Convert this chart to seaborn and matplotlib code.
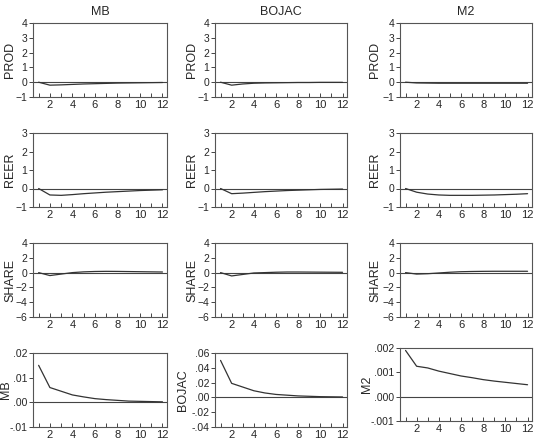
import numpy as np
import pandas as pd
import matplotlib
matplotlib.use("Agg")
import matplotlib.pyplot as plt
import seaborn as sns
from matplotlib.ticker import FuncFormatter

sns.set_style("ticks")
plt.rcParams['font.family'] = ['Liberation Sans', 'DejaVu Sans']

periods = list(range(1, 13))
shocks = ["MB", "BOJAC", "M2"]
responses = ["PROD", "REER", "SHARE", "OWN"]

# MB shock
mb_prod = [0, -0.20, -0.18, -0.15, -0.12, -0.10, -0.08, -0.06, -0.05, -0.04, -0.03, -0.02]
mb_reer = [0, -0.35, -0.37, -0.33, -0.28, -0.24, -0.20, -0.17, -0.14, -0.11, -0.09, -0.07]
mb_share = [0, -0.40, -0.20, 0.00, 0.10, 0.15, 0.17, 0.16, 0.14, 0.12, 0.10, 0.08]
mb_own = [0.015, 0.006, 0.0045, 0.003, 0.0022, 0.0015, 0.0011, 0.0008, 0.0005, 0.0004, 0.0003, 0.0002]
# BOJAC shock
bj_prod = [0, -0.20, -0.12, -0.07, -0.05, -0.04, -0.03, -0.02, -0.02, -0.01, -0.01, -0.01]
bj_reer = [0, -0.28, -0.25, -0.21, -0.17, -0.14, -0.11, -0.09, -0.07, -0.05, -0.04, -0.03]
bj_share = [0, -0.45, -0.25, -0.05, 0.00, 0.05, 0.08, 0.08, 0.07, 0.06, 0.05, 0.04]
bj_own = [0.05, 0.019, 0.014, 0.009, 0.006, 0.004, 0.003, 0.002, 0.0015, 0.001, 0.0008, 0.0006]
# M2 shock
m2_prod = [0, -0.05, -0.06, -0.07, -0.07, -0.07, -0.07, -0.07, -0.07, -0.07, -0.07, -0.07]
m2_reer = [0, -0.20, -0.30, -0.35, -0.37, -0.37, -0.37, -0.36, -0.35, -0.33, -0.31, -0.28]
m2_share = [0, -0.20, -0.15, -0.05, 0.05, 0.12, 0.15, 0.17, 0.18, 0.18, 0.18, 0.18]
m2_own = [0.0019, 0.00125, 0.00118, 0.00105, 0.00095, 0.00085, 0.00078, 0.0007, 0.00064, 0.00059, 0.00054, 0.00049]

series = {
    "MB": [mb_prod, mb_reer, mb_share, mb_own],
    "BOJAC": [bj_prod, bj_reer, bj_share, bj_own],
    "M2": [m2_prod, m2_reer, m2_share, m2_own],
}

row_ylims = [(-1, 4), (-1, 3), (-6, 4)]
row_yticks = [[-1, 0, 1, 2, 3, 4], [-1, 0, 1, 2, 3], [-6, -4, -2, 0, 2, 4]]
own_ylims = {"MB": (-0.01, 0.02), "BOJAC": (-0.04, 0.06), "M2": (-0.001, 0.002)}
own_yticks = {"MB": [-0.01, 0.0, 0.01, 0.02],
              "BOJAC": [-0.04, -0.02, 0.0, 0.02, 0.04, 0.06],
              "M2": [-0.001, 0.0, 0.001, 0.002]}
own_dec = {"MB": 2, "BOJAC": 2, "M2": 3}

W, H = 535, 442
fig = plt.figure(figsize=(W / 100, H / 100), dpi=100)

cols_px = [(33, 167), (215, 347), (400, 532)]
rows_px = [(23, 97), (133, 207), (243, 317), (353, 427)]
# right edge (px) of the rotated y label: rows 1-3, row 4
label_right_px = [(16, 12), (198, 189), (381, 373)]

def fmt_dec(d):
    def f(v, pos):
        s = f"{v:.{d}f}"
        s = s.replace("0.", ".", 1) if s.startswith("0.") else s.replace("-0.", "-.", 1)
        return s
    return f

line_col = "#333333"
for c, shock in enumerate(shocks):
    for r in range(4):
        l, rr = cols_px[c]
        t, b = rows_px[r]
        if c == 2 and r == 3:
            t, b = 348, 421
        ax = fig.add_axes([l / W, 1 - b / H, (rr - l) / W, (b - t) / H])
        df = pd.DataFrame({"period": periods, "value": series[shock][r]})
        sns.lineplot(data=df, x="period", y="value", ax=ax, color=line_col, linewidth=0.9)
        ax.axhline(0, color="#444444", linewidth=0.8, zorder=1)
        ax.set_xlim(0.5, 12.4)
        ax.set_xticks(periods)
        ax.set_xticklabels([str(p) if p % 2 == 0 else "" for p in periods])
        if r < 3:
            ax.set_ylim(*row_ylims[r])
            ax.set_yticks(row_yticks[r])
            ylabel = responses[r]
        else:
            ax.set_ylim(*own_ylims[shock])
            ax.set_yticks(own_yticks[shock])
            ax.yaxis.set_major_formatter(FuncFormatter(fmt_dec(own_dec[shock])))
            ylabel = shock
        ax.set_ylabel(ylabel, fontsize=9)
        lr = label_right_px[c][0 if r < 3 else 1]
        ax.yaxis.set_label_coords((lr - l) / (rr - l), 0.5)
        ax.set_xlabel("")
        ax.tick_params(axis="x", direction="in", length=3, labelsize=8, pad=2, width=0.6)
        ax.tick_params(axis="y", direction="out", length=3, labelsize=7.5, pad=1, width=0.6)
        for sp in ax.spines.values():
            sp.set_visible(True)
            sp.set_linewidth(0.8)
            sp.set_color("#555555")
        if r == 0:
            ax.set_title(shock, fontsize=9, pad=6)

fig.savefig("out.png", dpi=100)
